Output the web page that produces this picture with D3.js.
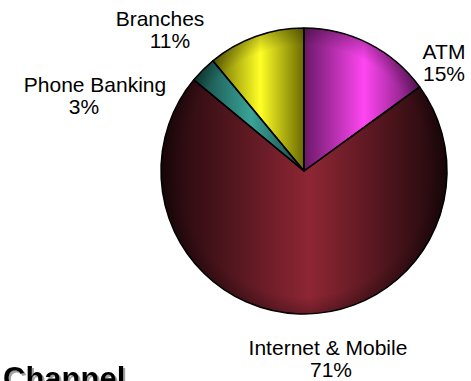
<!DOCTYPE html>
<html>
<head>
<meta charset="utf-8">
<script src="https://cdn.jsdelivr.net/npm/d3@7"></script>
<style>
  html, body { margin: 0; padding: 0; background: #fff; overflow: hidden; }
  svg { display: block; }
</style>
</head>
<body>
<div id="chart"></div>
<script>
// channel shares, clockwise from 12 o'clock
const channels = ['ATM', 'Internet & Mobile', 'Phone Banking', 'Branches'];
const shares = [15, 71, 3, 11];
const pctLabels = ['15%', '71%', '3%', '11%'];

const width = 471, height = 381;
const cx = 304, cy = 171, radius = 143;

// dark edge / bright middle of each slice's shading
const darkCols = ['#6a1868', '#1c070a', '#14443f', '#6a6a00'];
const brightCols = ['#ff46f2', '#8e2634', '#3aa398', '#ffff26'];

// where each label block sits (centre of first line, baseline of first line)
const labelPos = [
  { x: 444, y: 59, dx2: 0 },
  { x: 328, y: 355, dx2: 3 },
  { x: 95, y: 92, dx2: -11 },
  { x: 160, y: 26, dx2: 10 }
];

const svg = d3.select('#chart')
  .append('svg')
  .attr('width', width)
  .attr('height', height);

const defs = svg.append('defs');
channels.forEach((c, i) => {
  const g = defs.append('linearGradient')
    .attr('id', 'grad' + i)
    .attr('x1', '0%').attr('x2', '100%')
    .attr('y1', '0%').attr('y2', '0%');
  g.append('stop').attr('offset', '0%').attr('stop-color', darkCols[i]);
  g.append('stop').attr('offset', '52%').attr('stop-color', brightCols[i]);
  g.append('stop').attr('offset', '100%').attr('stop-color', darkCols[i]);
});

// soft rim shading over the whole pie
const rim = defs.append('radialGradient').attr('id', 'rim');
rim.append('stop').attr('offset', '88%').attr('stop-color', '#000').attr('stop-opacity', 0);
rim.append('stop').attr('offset', '100%').attr('stop-color', '#000').attr('stop-opacity', 0.25);

// grey drop shadow for the title
defs.append('filter')
  .attr('id', 'shadow')
  .attr('x', '-10%').attr('y', '-10%')
  .attr('width', '130%').attr('height', '140%')
  .append('feDropShadow')
  .attr('dx', 2).attr('dy', 2)
  .attr('stdDeviation', 0.6)
  .attr('flood-color', '#888')
  .attr('flood-opacity', 0.8);

const pie = d3.pie().sort(null).value(d => d);
const arcs = pie(shares);
const arc = d3.arc().innerRadius(0).outerRadius(radius);

const pieG = svg.append('g')
  .attr('transform', `translate(${cx},${cy})`);

pieG.selectAll('path.slice')
  .data(arcs)
  .enter()
  .append('path')
  .attr('class', 'slice')
  .attr('d', arc)
  .attr('fill', (d, i) => `url(#grad${i})`);

pieG.append('circle')
  .attr('r', radius)
  .attr('fill', 'url(#rim)')
  .attr('pointer-events', 'none');

pieG.selectAll('path.edge')
  .data(arcs)
  .enter()
  .append('path')
  .attr('class', 'edge')
  .attr('d', arc)
  .attr('fill', 'none')
  .attr('stroke', '#000')
  .attr('stroke-width', 1.5)
  .attr('stroke-linejoin', 'round');

const labels = svg.selectAll('text.lbl')
  .data(channels)
  .enter()
  .append('text')
  .attr('class', 'lbl')
  .attr('font-family', '"Liberation Sans", Arial, sans-serif')
  .attr('font-size', '21px')
  .attr('fill', '#000')
  .attr('text-anchor', 'middle');

labels.append('tspan')
  .attr('x', (d, i) => labelPos[i].x)
  .attr('y', (d, i) => labelPos[i].y)
  .text(d => d);

labels.append('tspan')
  .attr('x', (d, i) => labelPos[i].x + labelPos[i].dx2)
  .attr('y', (d, i) => labelPos[i].y + 22)
  .text((d, i) => pctLabels[i]);

// title peeking in at the bottom edge
svg.append('text')
  .attr('x', 3).attr('y', 389)
  .attr('font-family', '"Liberation Sans", Arial, sans-serif')
  .attr('font-size', '31px').attr('font-weight', 'bold')
  .attr('fill', '#000')
  .attr('filter', 'url(#shadow)')
  .text('Channel');
</script>
</body>
</html>
